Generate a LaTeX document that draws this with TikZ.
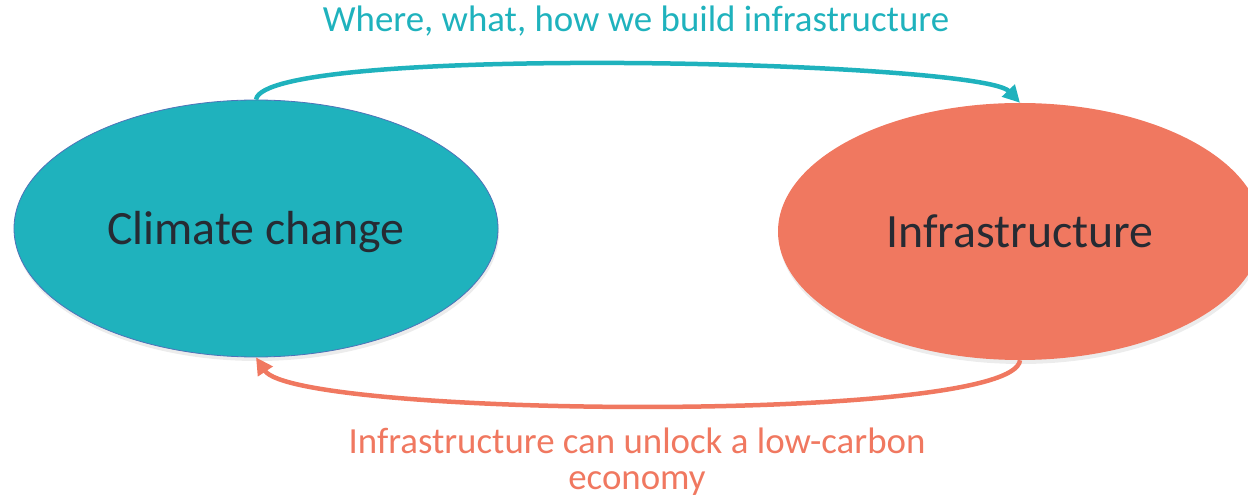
\documentclass[tikz,border=0pt]{standalone}
\usepackage{fontspec}
\setmainfont{Carlito}
\usetikzlibrary{shapes.geometric, arrows.meta, shadows}
\definecolor{climteal}{RGB}{31, 178, 189}
\definecolor{infrasalmon}{RGB}{240, 120, 96}
\definecolor{inktext}{RGB}{38, 43, 51}
\definecolor{rimblue}{RGB}{79, 114, 184}

\tikzset{
  bubble/.style={ellipse, inner sep=0pt, minimum width=484bp, minimum height=257bp,
    text=inktext, font=\fontsize{48}{56}\selectfont, text height=32bp, text depth=0bp,
    drop shadow={shadow xshift=1bp, shadow yshift=-4bp, opacity=0.15}},
  loop/.style={line width=4.5bp, -{Triangle[length=17bp, width=17bp]}},
  looplabel/.style={align=center, inner sep=0pt}
}

\begin{document}
\begin{tikzpicture}[x=1bp, y=-1bp]
  \useasboundingbox (0,0) rectangle (1248,504);
  \clip (0,0) rectangle (1248,504);

  % Ellipses
  \node[bubble, fill=climteal, draw=rimblue, line width=0.8bp] (climate) at (256, 228.5) {Climate change};
  \node[bubble, fill=infrasalmon] (infra) at (1020, 231.5) {Infrastructure};

  % Loop arrows
  \draw[loop, climteal] (climate.north) .. controls +(8,-56) and +(-40,-42) .. (infra.north);
  \draw[loop, infrasalmon] (infra.south) .. controls +(-6,64) and +(40,60) .. (climate.south);

  % Labels
  \node[looplabel, text=climteal, font=\fontsize{37}{40}\selectfont, anchor=base] (buildlabel) at (636, 32)
    {Where, what, how we build infrastructure};
  \node[looplabel, text=infrasalmon, font=\fontsize{37}{36}\selectfont, anchor=base] (unlocklabel) at (637, 489)
    {Infrastructure can unlock a low-carbon\\economy};
\end{tikzpicture}
\end{document}
